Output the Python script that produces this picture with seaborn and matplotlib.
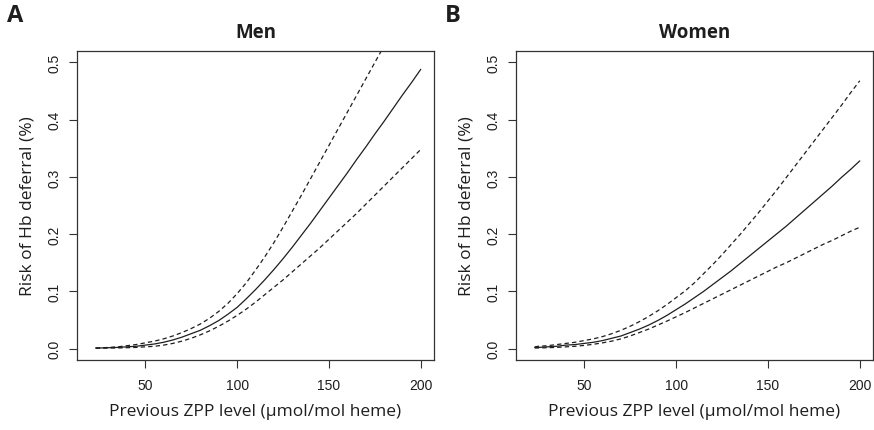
import numpy as np
import pandas as pd
import matplotlib
matplotlib.use("Agg")
import matplotlib.pyplot as plt
import seaborn as sns

# Previous ZPP level (µmol/mol heme)
zpp = [23, 25, 30, 35, 40, 45, 50, 55, 60, 65, 70, 75, 80, 85, 90, 95, 100,
       105, 110, 115, 120, 125, 130, 135, 140, 145, 150, 155, 160, 165, 170,
       175, 180, 185, 190, 195, 200]

# Predicted risk of Hb deferral with lower / upper confidence bounds
men_fit = [0.001, 0.001, 0.0015, 0.002, 0.003, 0.004, 0.006, 0.008, 0.011, 0.015,
           0.020, 0.026, 0.032, 0.040, 0.049, 0.060, 0.072, 0.087, 0.103, 0.120,
           0.138, 0.157, 0.177, 0.198, 0.219, 0.241, 0.263, 0.285, 0.307, 0.330,
           0.352, 0.375, 0.397, 0.420, 0.443, 0.465, 0.488]
men_lower = [0.0005, 0.0005, 0.001, 0.001, 0.0015, 0.002, 0.003, 0.004, 0.006, 0.009,
             0.013, 0.018, 0.024, 0.031, 0.039, 0.048, 0.058, 0.069, 0.081, 0.094,
             0.107, 0.120, 0.134, 0.148, 0.162, 0.176, 0.191, 0.206, 0.221, 0.236,
             0.252, 0.268, 0.284, 0.300, 0.316, 0.332, 0.348]
men_upper = [0.001, 0.001, 0.002, 0.003, 0.005, 0.007, 0.010, 0.013, 0.017, 0.022,
             0.028, 0.035, 0.043, 0.053, 0.065, 0.079, 0.096, 0.115, 0.137, 0.160,
             0.185, 0.212, 0.240, 0.268, 0.297, 0.326, 0.355, 0.384, 0.413, 0.442,
             0.471, 0.500, 0.529, 0.558, 0.587, 0.616, 0.645]

women_fit = [0.002, 0.002, 0.003, 0.004, 0.006, 0.007, 0.009, 0.011, 0.014, 0.018,
             0.022, 0.028, 0.034, 0.041, 0.049, 0.058, 0.068, 0.078, 0.089, 0.100,
             0.112, 0.124, 0.136, 0.149, 0.162, 0.175, 0.188, 0.201, 0.214, 0.228,
             0.242, 0.256, 0.270, 0.284, 0.299, 0.313, 0.328]
women_lower = [0.001, 0.001, 0.0015, 0.002, 0.003, 0.004, 0.0055, 0.0075, 0.010, 0.013,
               0.017, 0.022, 0.028, 0.034, 0.041, 0.048, 0.0555, 0.063, 0.071, 0.079,
               0.087, 0.095, 0.103, 0.111, 0.119, 0.127, 0.135, 0.143, 0.150, 0.158,
               0.166, 0.174, 0.182, 0.189, 0.197, 0.205, 0.212]
women_upper = [0.003, 0.004, 0.005, 0.007, 0.009, 0.011, 0.014, 0.017, 0.021, 0.026,
               0.032, 0.039, 0.047, 0.056, 0.066, 0.077, 0.089, 0.101, 0.115, 0.131,
               0.147, 0.164, 0.182, 0.200, 0.219, 0.238, 0.258, 0.278, 0.299, 0.320,
               0.341, 0.362, 0.383, 0.404, 0.425, 0.447, 0.468]

x_ticks = [50, 100, 150, 200]
y_ticks = [0.0, 0.1, 0.2, 0.3, 0.4, 0.5]
y_tick_labels = ["0.0", "0.1", "0.2", "0.3", "0.4", "0.5"]

panels = [("A", "Men", men_fit, men_lower, men_upper),
          ("B", "Women", women_fit, women_lower, women_upper)]

sns.set_style("ticks")
plt.rcParams["font.family"] = ["Liberation Sans", "DejaVu Sans"]

fig = plt.figure(figsize=(8.74, 4.31), dpi=100)
axes_pos = [[77 / 874, 1 - 361 / 431, 357 / 874, 309 / 431],
            [516 / 874, 1 - 361 / 431, 357 / 874, 309 / 431]]
letter_x = [7 / 874, 445 / 874]

ink = "#1e1e1e"
label_font = "Open Sans"

for pos, lx, (letter, title, fit, lo, up) in zip(axes_pos, letter_x, panels):
    ax = fig.add_axes(pos)
    df = pd.DataFrame({"zpp": zpp, "fit": fit, "lower": lo, "upper": up})
    sns.lineplot(data=df, x="zpp", y="fit", ax=ax, color=ink, linewidth=0.9)
    for col in ("lower", "upper"):
        sns.lineplot(data=df, x="zpp", y=col, ax=ax, color=ink,
                     linewidth=0.9, linestyle=(0, (3.5, 2.5)))
    ax.set_xlim(12.8, 207.2)
    ax.set_ylim(-0.02, 0.52)
    ax.set_xticks(x_ticks)
    ax.set_xticklabels([str(t) for t in x_ticks], fontsize=10)
    ax.set_yticks(y_ticks)
    ax.set_yticklabels(y_tick_labels, fontsize=10, rotation=90, va="center")
    ax.tick_params(direction="out", length=6, width=0.8, color="#333333",
                   labelcolor=ink, pad=7)
    ax.tick_params(axis="y", pad=5)
    for s in ax.spines.values():
        s.set_visible(True)
        s.set_color("#333333")
        s.set_linewidth(0.9)
    ax.set_xlabel("Previous ZPP level (µmol/mol heme)", fontsize=12.5,
                  family=label_font, color=ink, labelpad=8)
    ax.set_ylabel("Risk of Hb deferral (%)", fontsize=12.5,
                  family=label_font, color=ink, labelpad=9)
    ax.set_title(title, fontsize=13.5, fontweight="bold", family=label_font,
                 color=ink, pad=10)
    fig.text(lx, 0.99, letter, fontsize=17, fontweight="bold",
             family=label_font, color=ink, va="top", ha="left")

fig.savefig("out.png", dpi=100, facecolor="white")
